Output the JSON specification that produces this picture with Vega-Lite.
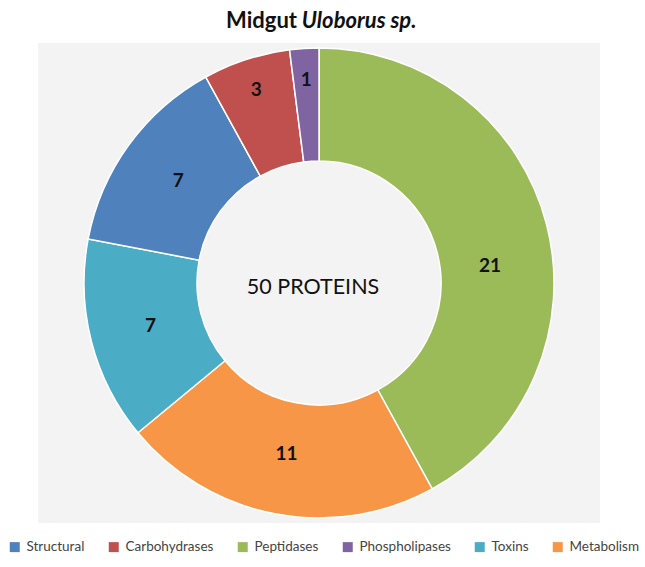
{
  "$schema": "https://vega.github.io/schema/vega-lite/v6.json",
  "width": 562,
  "height": 480,
  "autosize": {"type": "none"},
  "padding": {"left": 38, "top": 43, "right": 45, "bottom": 44},
  "background": "white",
  "view": {"fill": "#f3f3f3", "stroke": null},
  "title": {
    "text": "Midgut\u00a0\u00a0\u00a0\u00a0\u00a0\u00a0\u00a0\u00a0\u00a0\u00a0\u00a0\u00a0\u00a0\u00a0\u00a0\u00a0\u00a0\u00a0\u00a0\u00a0\u00a0\u00a0\u00a0\u200b",
    "subtitle": "\u200b\u00a0\u00a0\u00a0\u00a0\u00a0\u00a0\u00a0\u00a0\u00a0\u00a0\u00a0\u00a0\u00a0\u00a0\u00a0Uloborus sp.",
    "anchor": "middle",
    "dx": 4,
    "font": "Lato",
    "fontSize": 22,
    "fontWeight": "bold",
    "color": "#111111",
    "subtitleFont": "Lato",
    "subtitleFontSize": 22,
    "subtitleFontWeight": "bold",
    "subtitleFontStyle": "italic",
    "subtitleColor": "#111111",
    "subtitlePadding": -22,
    "offset": 10
  },
  "config": {
    "view": {"stroke": null, "fill": "#f3f3f3"},
    "font": "Lato"
  },
  "data": {
    "values": [
      {"category": "Peptidases", "count": 21, "rank": 1},
      {"category": "Metabolism", "count": 11, "rank": 2},
      {"category": "Toxins", "count": 7, "rank": 3},
      {"category": "Structural", "count": 7, "rank": 4},
      {"category": "Carbohydrases", "count": 3, "rank": 5},
      {"category": "Phospholipases", "count": 1, "rank": 6}
    ]
  },
  "layer": [
    {
      "mark": {"type": "arc", "outerRadius": 235, "innerRadius": 122, "stroke": "white", "strokeWidth": 1.5},
      "encoding": {
        "theta": {"field": "count", "type": "quantitative", "stack": true},
        "order": {"field": "rank", "type": "quantitative"},
        "color": {
          "field": "category",
          "type": "nominal",
          "scale": {
            "domain": ["Structural", "Carbohydrases", "Peptidases", "Phospholipases", "Toxins", "Metabolism"],
            "range": ["#4F81BD", "#C0504D", "#9BBB59", "#8064A2", "#4BACC6", "#F79646"]
          },
          "legend": {
            "title": null,
            "orient": "none",
            "legendX": -30,
            "legendY": 497,
            "direction": "horizontal",
            "columns": 6,
            "columnPadding": 22,
            "symbolType": "square",
            "symbolSize": 100,
            "symbolStrokeWidth": 0,
            "symbolOffset": 0,
            "labelFontSize": 13.5,
            "labelFont": "Lato",
            "labelColor": "#444444",
            "labelOffset": 5
          }
        }
      }
    },
    {
      "mark": {"type": "text", "radius": 174, "fontSize": 19, "fontWeight": "bold", "font": "Lato", "color": "#111111"},
      "encoding": {
        "theta": {"field": "count", "type": "quantitative", "stack": true},
        "order": {"field": "rank", "type": "quantitative"},
        "text": {"condition": {"test": "datum.count >= 5 && datum.count < 15", "field": "count", "type": "quantitative"}, "value": ""}
      }
    },
    {
      "mark": {"type": "text", "radius": 172, "fontSize": 19, "fontWeight": "bold", "font": "Lato", "color": "#111111", "thetaOffset": 0.15},
      "encoding": {
        "theta": {"field": "count", "type": "quantitative", "stack": true},
        "order": {"field": "rank", "type": "quantitative"},
        "text": {"condition": {"test": "datum.count >= 15", "field": "count", "type": "quantitative"}, "value": ""}
      }
    },
    {
      "mark": {"type": "text", "radius": 203, "fontSize": 19, "fontWeight": "bold", "font": "Lato", "color": "#111111"},
      "encoding": {
        "theta": {"field": "count", "type": "quantitative", "stack": true},
        "order": {"field": "rank", "type": "quantitative"},
        "text": {"condition": {"test": "datum.count < 5", "field": "count", "type": "quantitative"}, "value": ""}
      }
    },
    {
      "data": {"values": [{"label": "50 PROTEINS"}]},
      "mark": {"type": "text", "fontSize": 21.5, "font": "Lato", "color": "#111111", "baseline": "middle", "align": "center", "dx": -6, "dy": 5},
      "encoding": {
        "text": {"field": "label", "type": "nominal"}
      }
    }
  ]
}
